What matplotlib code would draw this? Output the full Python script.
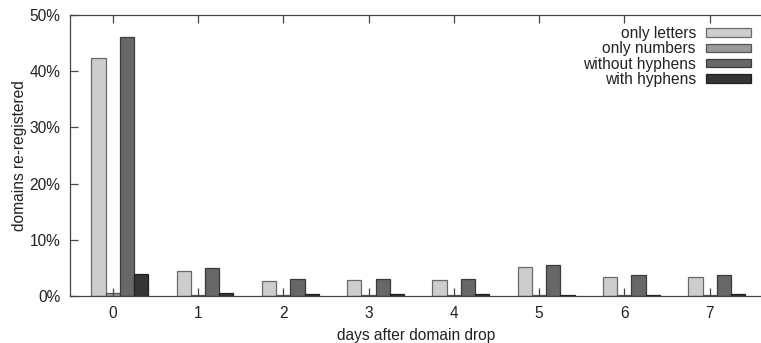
import matplotlib
matplotlib.use("Agg")
import matplotlib.pyplot as plt
import numpy as np
from matplotlib.ticker import FuncFormatter

plt.rcParams['font.family'] = ['Liberation Sans', 'DejaVu Sans']

days = [0, 1, 2, 3, 4, 5, 6, 7]
series_names = ["only letters", "only numbers", "without hyphens", "with hyphens"]
only_letters = [42.3, 4.5, 2.7, 2.8, 2.8, 5.2, 3.4, 3.3]
only_numbers = [0.5, 0.15, 0.1, 0.1, 0.1, 0.1, 0.1, 0.1]
without_hyphens = [46.0, 5.0, 3.0, 3.1, 3.0, 5.6, 3.8, 3.7]
with_hyphens = [3.9, 0.6, 0.3, 0.4, 0.3, 0.2, 0.2, 0.35]
colors = ["#cdcdcd", "#9a9a9a", "#676767", "#353535"]
edges = ["#6a6a6a", "#555555", "#3a3a3a", "#202020"]

FS = 11.2

fig = plt.figure(figsize=(7.61, 3.43), dpi=100)
ax = fig.add_axes([70/761, 47/343, 1 - 70/761 + 0.002, (296-15)/343])

x = np.arange(len(days))
w = 1/6
data = [only_letters, only_numbers, without_hyphens, with_hyphens]
for i, (vals, name) in enumerate(zip(data, series_names)):
    ax.bar(x + (i - 1) * w, vals, width=w, color=colors[i], edgecolor=edges[i],
           linewidth=0.9, label=name, zorder=1)

ax.set_xlim(-0.5, 7.62)
ax.set_ylim(0, 50)
ax.set_xticks(x)
ax.set_xticklabels([str(d) for d in days])
ax.set_yticks([0, 10, 20, 30, 40, 50])
ax.yaxis.set_major_formatter(FuncFormatter(lambda v, p: f"{int(v)}%"))
ax.tick_params(axis='x', direction='in', top=True, bottom=True, length=6,
               width=0.9, color='#444444', labelsize=FS, pad=7, labelcolor='#222222')
ax.tick_params(axis='y', direction='in', left=True, right=False, length=6,
               width=0.9, color='#444444', labelsize=FS, pad=7, labelcolor='#222222')
for s in ['left', 'bottom', 'top']:
    ax.spines[s].set_color('#444444')
    ax.spines[s].set_linewidth(0.9)
ax.spines['right'].set_visible(False)

ax.set_xlabel("days after domain drop", fontsize=FS, color='#222222', labelpad=5)
ax.set_ylabel("domains re-registered", fontsize=FS, color='#222222', labelpad=2)

leg = ax.legend(loc='upper right', frameon=False, markerfirst=False, fontsize=FS,
                handlelength=2.9, handleheight=0.45, labelspacing=0.02,
                handletextpad=0.65, borderaxespad=0.0, borderpad=0.0)
for t in leg.get_texts():
    t.set_color('#222222')
leg.set_bbox_to_anchor((751/761, 1 - 26/343), transform=fig.transFigure)

fig.savefig("out.png", dpi=100)
